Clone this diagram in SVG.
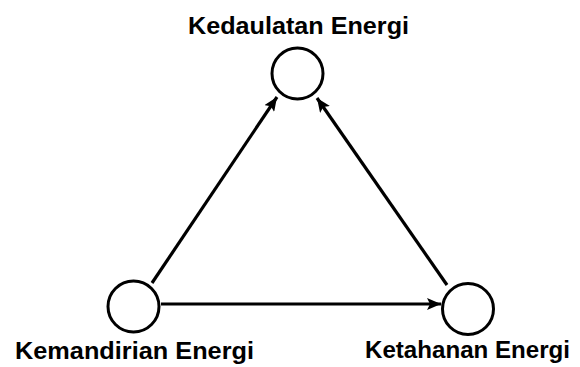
<svg xmlns="http://www.w3.org/2000/svg" width="580" height="367" viewBox="0 0 580 367">
<style>
.node circle{fill:#fff;stroke:#000;stroke-width:3}
.lbl{font-family:"Liberation Sans",Arial,sans-serif;font-weight:bold;font-size:24px;fill:#000;text-anchor:middle}
.edge{stroke:#000;stroke-width:3.2;fill:none;marker-end:url(#ah)}
</style>
<defs>
<marker id="ah" markerUnits="userSpaceOnUse" markerWidth="16" markerHeight="12" refX="14" refY="6" orient="auto">
<path d="M0,0 L14,6 L0,12 L3,6 Z" fill="#000"/>
</marker>
</defs>
<rect width="580" height="367" fill="#fff"/>
<g id="connectors">
<line class="edge" x1="152" y1="283" x2="277" y2="97"/>
<line class="edge" x1="447" y1="285" x2="317" y2="98"/>
<line class="edge" x1="161" y1="304" x2="441" y2="304"/>
</g>
<g id="kedaulatan" class="node">
<circle cx="297.5" cy="73.5" r="25.5"/>
<text class="lbl" x="298.5" y="34" textLength="221" lengthAdjust="spacingAndGlyphs">Kedaulatan Energi</text>
</g>
<g id="kemandirian" class="node">
<circle cx="133.5" cy="306.5" r="25.5"/>
<text class="lbl" x="134.5" y="358.5" textLength="239" lengthAdjust="spacingAndGlyphs">Kemandirian Energi</text>
</g>
<g id="ketahanan" class="node">
<circle cx="468" cy="309" r="25.5"/>
<text class="lbl" x="467.5" y="357.5" textLength="205" lengthAdjust="spacingAndGlyphs">Ketahanan Energi</text>
</g>
</svg>
